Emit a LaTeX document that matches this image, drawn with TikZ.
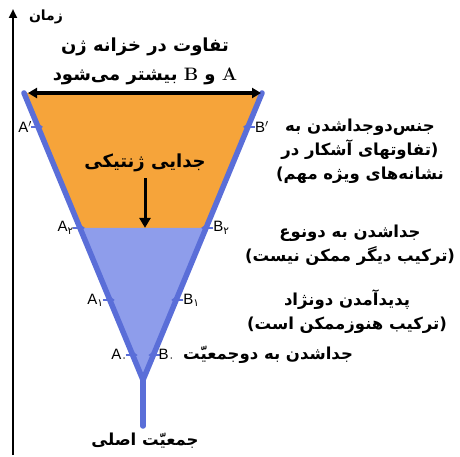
\documentclass[tikz,border=0pt]{standalone}
\usepackage{fontspec}
\newfontfamily\fafont[Script=Arabic]{DejaVu Sans}
\newfontfamily\lblfont{Liberation Sans}
\TeXXeTstate=1
\usetikzlibrary{arrows.meta,calc}

\definecolor{funnelblue}{HTML}{5A6ED8}
\definecolor{lowblue}{HTML}{8E9DEB}
\definecolor{poolorange}{HTML}{F6A43A}

\begin{document}
\begin{tikzpicture}[
    x=1pt, y=-1pt,
    fa/.style={font=\fafont\bfseries\fontsize{16.5}{24}\selectfont, align=center, inner sep=0pt},
    lbl/.style={font=\lblfont\fontsize{15}{15}\selectfont, inner sep=0pt},
    edge/.style={draw=funnelblue, line width=5.5pt, line cap=round, line join=round},
    tickmark/.style={-{Triangle[length=6pt,width=8pt]}, funnelblue, line width=1.5pt},
    axis/.style={-{Triangle[length=9pt,width=8pt]}, line width=2.5pt},
    spread/.style={{Triangle[length=9pt,width=10pt]}-{Triangle[length=9pt,width=10pt]}, line width=4pt},
    sep/.style={-{Triangle[length=10pt,width=11pt]}, line width=3pt}
  ]
  \useasboundingbox (0,0) rectangle (460,457);

  % funnel corners and level points
  \coordinate (tl) at (24,93);
  \coordinate (tr) at (262,93);
  \coordinate (tip) at (143,380);
  \coordinate (root) at (143,426);
  \coordinate (la3) at ($(tl)!0.118!(tip)$);
  \coordinate (rb3) at ($(tr)!0.118!(tip)$);
  \coordinate (la2) at ($(tl)!0.470!(tip)$);
  \coordinate (rb2) at ($(tr)!0.470!(tip)$);
  \coordinate (la1) at ($(tl)!0.721!(tip)$);
  \coordinate (rb1) at ($(tr)!0.721!(tip)$);
  \coordinate (la0) at ($(tl)!0.913!(tip)$);
  \coordinate (rb0) at ($(tr)!0.913!(tip)$);

  \fill[poolorange] (tl) -- (tr) -- (rb2) -- (la2) -- cycle;
  \fill[lowblue] (la2) -- (rb2) -- (tip) -- cycle;
  \draw[edge] (tl) -- (tip) -- (tr);
  \draw[edge] (tip) -- (root);

  \foreach \p in {la3,la2,la1,la0}
    \draw[tickmark] ([xshift=-7pt]\p) -- ([xshift=5pt]\p);
  \foreach \p in {rb3,rb2,rb1,rb0}
    \draw[tickmark] ([xshift=7pt]\p) -- ([xshift=-5pt]\p);

  \node[lbl, anchor=east] (labA3) at ([xshift=-6pt]la3) {A$'$};
  \node[lbl, anchor=west] (labB3) at ([xshift=7pt]rb3) {B$'$};
  \node[lbl, anchor=east] (labA2) at ([xshift=-6pt]la2) {A\textsubscript{\fafont ۲}};
  \node[lbl, anchor=west] (labB2) at ([xshift=7pt]rb2) {B\textsubscript{\fafont ۲}};
  \node[lbl, anchor=east] (labA1) at ([xshift=-6pt]la1) {A\textsubscript{\fafont ۱}};
  \node[lbl, anchor=west] (labB1) at ([xshift=7pt]rb1) {B\textsubscript{\fafont ۱}};
  \node[lbl, anchor=east] (labA0) at ([xshift=-5pt]la0) {A\textsubscript{\fafont ۰}};
  \node[lbl, anchor=west] (labB0) at ([xshift=5pt]rb0) {B\textsubscript{\fafont ۰}};

  % time axis
  \coordinate (tbase) at (13,455);
  \coordinate (ttop) at (13,9);
  \draw[axis] (tbase) -- (ttop);
  \node[fa, font=\fafont\bfseries\fontsize{14}{20}\selectfont] (time) at (46,17) {\beginR زمان\endR};

  \node[fa, font=\fafont\bfseries\fontsize{18}{29}\selectfont] (pool) at (145,61)
    {\beginR تفاوت در خزانه ژن\endR\\\beginR {\rmfamily\bfseries A} و {\rmfamily\bfseries B} بیشتر می‌شود\endR};
  \draw[spread] ([xshift=4pt]tl) -- ([xshift=-1pt]tr);

  \node[fa, font=\fafont\bfseries\fontsize{18}{20}\selectfont] (gap) at (145,163) {\beginR جدایی ژنتیکی\endR};
  \draw[sep] ([yshift=-6pt]gap.south) -- (gap |- la2);

  \node[fa] (sexnote) at (360,151)
    {\beginR جنس‌دوجداشدن به\endR\\\beginR (تفاوتهای آشکار در\endR\\\beginR نشانه‌های ویژه مهم)\endR};
  \node[fa] (specnote) at (350,245)
    {\beginR جداشدن به دونوع\endR\\\beginR (ترکیب دیگر ممکن نیست)\endR};
  \node[fa] (racenote) at (347,312)
    {\beginR پدیدآمدن دونژاد\endR\\\beginR (ترکیب هنوزممکن است)\endR};
  \node[fa, anchor=west] (popnote) at ([xshift=8pt]labB0.east)
    {\beginR جداشدن به دوجمعیّت\endR};
  \node[fa] (origin) at (145,441) {\beginR جمعیّت اصلی\endR};
\end{tikzpicture}
\end{document}
